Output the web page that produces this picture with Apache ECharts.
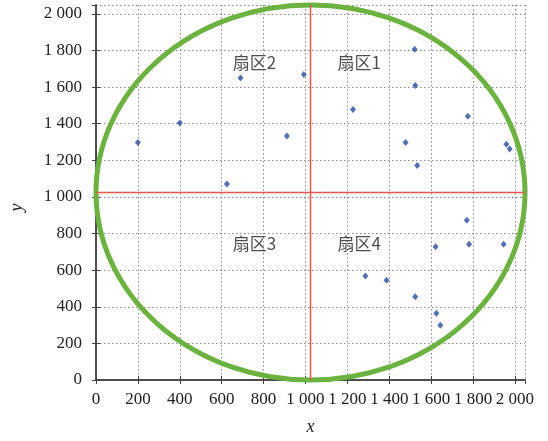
<!DOCTYPE html>
<html><head><meta charset="utf-8">
<script src="https://cdn.jsdelivr.net/npm/echarts@6/dist/echarts.min.js"></script>
<style>html,body{margin:0;padding:0;background:#fff}#c{width:548px;height:441px}</style>
</head><body><div id="c"></div>
<script>
// Axis range and ticks
const axisMax = 2048;
const tickStep = 200;
// Scatter samples (x, y)
const pointsX = [200, 400, 690, 625, 992, 911, 1227, 1521, 1524, 1478, 1533, 1775, 1959, 1975, 1770, 1621, 1781, 1946, 1286, 1387, 1524, 1625, 1644];
const pointsY = [1297, 1404, 1650, 1071, 1668, 1333, 1477, 1807, 1608, 1297, 1171, 1441, 1288, 1261, 873, 728, 741, 741, 568, 545, 454, 364, 299];
// Circle: center x, center y, radius
const circle = [1024, 1024, 1024];
// Dividing lines
const divX = 1024;
const divY = 1024;
// Sector labels
const sectorNames = ['扇区1', '扇区2', '扇区3', '扇区4'];
const sectorX = [1257, 757, 757, 1257];
const sectorY = [1732, 1732, 745, 745];

const fmt = v => {
  if (v % tickStep !== 0) return '';
  return v >= 1000 ? Math.floor(v / 1000) + ' ' + String(v % 1000).padStart(3, '0') : String(v);
};
const font = 'Liberation Serif';
const frameColor = '#444';
const baseAxis = {
  min: 0, max: axisMax, interval: tickStep,
  axisLine: {show: true, lineStyle: {color: frameColor, width: 1.5}},
  axisTick: {show: true, inside: true, length: 4, lineStyle: {color: frameColor}},
  splitLine: {show: true, lineStyle: {color: '#888', type: [1.5, 2.5], width: 1}},
  axisLabel: {fontFamily: font, fontSize: 17, color: '#222', formatter: fmt, interval: 0, hideOverlap: false, showMaxLabel: false}
};
const chart = echarts.init(document.getElementById('c'));
chart.setOption({
  animation: false,
  grid: {left: 94, right: 23, top: 5, bottom: 61},
  xAxis: [
    Object.assign({}, baseAxis, {type: 'value', position: 'bottom', name: 'x', nameLocation: 'middle', nameGap: 38,
      nameTextStyle: {fontFamily: font, fontSize: 18, fontStyle: 'italic', color: '#222'},
      axisLabel: Object.assign({}, baseAxis.axisLabel, {margin: 11})}),
    Object.assign({}, baseAxis, {type: 'value', position: 'top', splitLine: {show: false}, axisLabel: {show: false}})
  ],
  yAxis: [
    Object.assign({}, baseAxis, {type: 'value', position: 'left', name: 'y', nameLocation: 'middle', nameGap: 70,
      nameTextStyle: {fontFamily: font, fontSize: 18, fontStyle: 'italic', color: '#222', padding: [0, 30, 0, 0]},
      axisLabel: Object.assign({}, baseAxis.axisLabel, {margin: 14})}),
    Object.assign({}, baseAxis, {type: 'value', position: 'right', splitLine: {show: false}, axisLabel: {show: false}})
  ],
  series: [
    {
      type: 'custom', clip: false, z: 2,
      data: [circle],
      renderItem: (params, api) => {
        const c = api.coord([api.value(0), api.value(1)]);
        const s = api.size([api.value(2), api.value(2)]);
        const rx = s[0], ry = s[1];
        const d = `M ${c[0]-rx} ${c[1]} A ${rx} ${ry} 0 1 0 ${c[0]+rx} ${c[1]} A ${rx} ${ry} 0 1 0 ${c[0]-rx} ${c[1]} Z`;
        return {type: 'path', shape: {pathData: d, x: c[0]-rx, y: c[1]-ry, width: 2*rx, height: 2*ry, layout: 'cover'},
          style: {fill: 'none', stroke: '#6bb240', lineWidth: 5}};
      }
    },
    {type: 'line', data: [[divX, 0], [divX, axisMax]], symbol: 'none', z: 3, lineStyle: {color: '#e8564c', width: 1.5}},
    {type: 'line', data: [[0, divY], [axisMax, divY]], symbol: 'none', z: 3, lineStyle: {color: '#e8564c', width: 1.5}},
    {type: 'scatter', data: pointsX.map((x, i) => [x, pointsY[i]]), symbol: 'diamond', symbolSize: [6, 7], z: 4,
      itemStyle: {color: '#2a4a9e'}},
    {type: 'scatter', data: sectorX.map((x, i) => [x, sectorY[i], sectorNames[i]]), symbolSize: 0, z: 5,
      label: {show: true, position: 'inside', formatter: p => p.data[2], fontFamily: 'Noto Sans CJK SC', fontSize: 17, color: '#222'}}
  ]
});
</script></body></html>
